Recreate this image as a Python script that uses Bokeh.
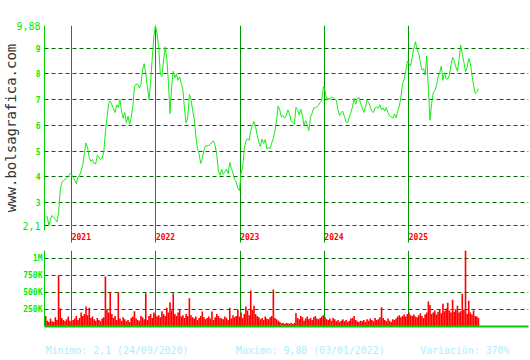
import pandas as pd
from bokeh.plotting import figure
from bokeh.models import (ColumnDataSource, FixedTicker, Range1d, LinearAxis,
                          DatetimeTickFormatter)
from bokeh.layouts import column
from bokeh.embed import file_html
from bokeh.resources import INLINE

# ---------------- data ----------------
start_date = "2020-09-10"          # weekly samples from here
close = [
    2.44, 2.45, 2.10, 2.35, 2.50, 2.42, 2.35, 2.25, 2.60, 3.45,
    3.78, 3.85, 3.90, 3.94, 4.04, 4.12, 4.10, 3.98, 3.88, 3.73,
    4.00, 4.06, 4.24, 4.47, 4.95, 5.32, 5.12, 4.75, 4.60, 4.68,
    4.52, 4.50, 4.84, 4.77, 4.68, 4.72, 4.98, 5.74, 6.30, 6.85,
    6.95, 6.80, 6.65, 6.50, 6.80, 6.70, 7.00, 6.55, 6.28, 6.50,
    6.10, 6.35, 6.05, 6.32, 6.75, 7.50, 7.60, 7.60, 7.45, 7.60,
    8.15, 8.40, 8.00, 7.50, 7.00, 7.70, 8.60, 9.45, 9.88, 9.55,
    9.05, 8.00, 7.90, 8.50, 9.05, 8.60, 7.70, 6.46, 7.50, 8.10,
    7.85, 8.00, 7.75, 7.88, 7.63, 7.38, 6.62, 6.10, 6.30, 7.20,
    7.00, 6.60, 6.25, 5.60, 5.10, 4.90, 4.52, 4.70, 5.05, 5.20,
    5.20, 5.22, 5.27, 5.36, 5.40, 5.20, 4.85, 4.22, 4.06, 4.30,
    4.10, 4.20, 4.30, 4.12, 4.56, 4.32, 4.15, 3.90, 3.80, 3.56,
    3.47, 4.15, 4.38, 5.10, 5.38, 5.48, 5.42, 5.80, 6.00, 6.15,
    5.95, 5.62, 5.35, 5.18, 5.47, 5.30, 5.45, 5.08, 5.15, 5.10,
    5.32, 5.50, 5.78, 6.20, 6.75, 6.60, 6.33, 6.38, 6.28, 6.38,
    6.60, 6.45, 6.18, 6.10, 6.05, 6.70, 6.62, 6.40, 6.62, 6.38,
    6.00, 6.18, 6.00, 5.80, 6.33, 6.47, 6.68, 6.68, 6.72, 6.78,
    6.90, 6.95, 7.50, 7.35, 6.98, 7.07, 7.00, 7.10, 7.08, 7.02,
    6.98, 6.62, 6.38, 6.50, 6.55, 6.35, 6.13, 6.10, 6.30, 6.50,
    6.72, 7.05, 6.82, 7.05, 7.08, 6.86, 6.70, 6.50, 6.70, 6.98,
    6.90, 6.72, 6.55, 6.50, 6.68, 6.72, 6.67, 6.80, 6.60, 6.68,
    6.55, 6.70, 6.50, 6.37, 6.33, 6.28, 6.44, 6.30, 6.55, 6.75,
    7.10, 7.62, 7.80, 8.10, 8.50, 8.40, 8.30, 8.65, 9.00, 9.25,
    8.95, 8.80, 8.45, 8.15, 8.20, 7.95, 8.70, 7.40, 6.20, 6.85,
    7.26, 7.35, 7.55, 7.88, 8.05, 8.30, 7.75, 8.05, 7.80, 7.80,
    7.95, 8.35, 8.65, 8.50, 8.27, 8.10, 8.55, 9.12, 8.75, 8.45,
    8.08, 8.25, 8.60, 8.40, 7.95, 7.55, 7.24, 7.30, 7.43,
]
volume_k = [
    150, 80, 60, 110, 70, 60, 130, 90, 748, 259,
    120, 90, 70, 100, 140, 80, 60, 90, 110, 150,
    90, 120, 200, 150, 180, 289, 160, 270, 120, 140,
    100, 80, 120, 90, 70, 110, 130, 733, 250, 200,
    500, 180, 120, 150, 90, 500, 110, 80, 130, 100,
    70, 90, 60, 120, 140, 220, 110, 90, 80, 150,
    130, 100, 486, 90, 150, 180, 120, 200, 170, 140,
    160, 130, 220, 180, 150, 270, 200, 353, 230, 486,
    180, 150, 200, 250, 140, 160, 120, 180, 150, 412,
    160, 130, 110, 140, 90, 120, 150, 215, 130, 100,
    120, 140, 110, 215, 90, 130, 180, 150, 120, 110,
    100, 140, 120, 90, 270, 110, 160, 130, 150, 245,
    140, 200, 120, 180, 290, 230, 160, 526, 240, 300,
    180, 150, 130, 100, 120, 90, 140, 110, 100, 130,
    150, 540, 120, 100, 80, 60, 40, 50, 30, 45,
    40, 35, 50, 30, 45, 190, 120, 100, 150, 130,
    80, 110, 140, 100, 120, 90, 130, 150, 110, 100,
    120, 140, 160, 130, 100, 90, 110, 80, 120, 100,
    70, 90, 60, 80, 100, 70, 90, 60, 80, 110,
    120, 150, 90, 70, 60, 80, 70, 90, 60, 100,
    80, 110, 90, 70, 120, 90, 100, 130, 280, 120,
    90, 70, 110, 80, 60, 100, 90, 110, 140, 160,
    130, 150, 170, 140, 180, 200, 160, 150, 170, 140,
    130, 160, 190, 150, 120, 170, 200, 363, 310, 180,
    200, 230, 170, 210, 250, 190, 330, 220, 260, 345,
    230, 200, 388, 210, 250, 300, 200, 220, 477, 240,
    1120, 180, 375, 200, 170, 230, 150, 140, 120,
]
year_dates = ["2021-01-01", "2022-01-01", "2023-01-01", "2024-01-01", "2025-01-01"]
price_grid = [2.1, 3, 4, 5, 6, 7, 8, 9, 9.88]
price_tick_labels = [3, 4, 5, 6, 7, 8, 9]
price_end_ticks = [2.1, 9.88]
price_end_labels = ["2,1", "9,88"]
vol_ticks = [250, 500, 750, 1000]
vol_tick_labels = ["250K", "500K", "750K", "1M"]
footer = ["Minimo: 2,1 (24/09/2020)", "Maximo: 9,88 (03/01/2022)", "Variación: 370%"]
watermark = "www.bolsagrafica.com"

# ---------------- build ----------------
dates = pd.date_range(start_date, periods=len(close), freq="7D")
src = ColumnDataSource(dict(date=dates, close=close, vol=volume_k))

MONO = "DejaVu Sans Mono"
GREEN_TXT = "#00ee00"
GRID = "#006600"
YEAR_LINE = "#009900"
NB = "\u00a0"

xr = Range1d(start=pd.Timestamp("2020-09-05"), end=pd.Timestamp("2026-06-04"))
year_ms = [pd.Timestamp(d).value / 1e6 for d in year_dates]
year_ticker = FixedTicker(ticks=year_ms)

p1 = figure(width=530, height=250, x_axis_type="datetime", x_range=xr,
            y_range=Range1d(1.917, max(price_grid)), output_backend="svg",
            toolbar_location=None, min_border_left=44, min_border_right=2,
            min_border_top=25, min_border_bottom=20)
p1.outline_line_color = None
p1.line("date", "close", source=src, color="#11ee11", line_width=1)

# integer price labels
ya = p1.yaxis[0]
ya.ticker = FixedTicker(ticks=price_tick_labels)
ya.axis_line_color = "#00cc00"
ya.major_tick_line_color = None
ya.minor_tick_line_color = None
ya.major_tick_out = 0
ya.major_tick_in = 0
ya.major_label_text_color = GREEN_TXT
ya.major_label_text_font = MONO
ya.major_label_text_font_style = "bold"
ya.major_label_text_font_size = "8px"
ya.major_label_standoff = 4

# min / max labels + watermark
ya2 = LinearAxis(ticker=FixedTicker(ticks=price_end_ticks),
                 major_label_overrides=dict(zip(price_end_ticks, price_end_labels)),
                 axis_line_color=None, major_tick_line_color=None, minor_tick_line_color=None,
                 major_tick_out=0, major_tick_in=0, major_label_standoff=-8,
                 major_label_text_color=GREEN_TXT, major_label_text_font=MONO,
                 major_label_text_font_size="10px",
                 axis_label=watermark, axis_label_standoff=-6,
                 axis_label_text_font=MONO, axis_label_text_font_size="14px",
                 axis_label_text_font_style="normal", axis_label_text_color="#333333")
p1.add_layout(ya2, "left")

p1.ygrid.ticker = FixedTicker(ticks=price_grid)
p1.ygrid.grid_line_color = GRID
p1.ygrid.grid_line_dash = "4 3"

fmt = NB * 4 + "%Y"
xa = p1.xaxis[0]
xa.ticker = year_ticker
xa.formatter = DatetimeTickFormatter(years=fmt, months=fmt, days=fmt)
p1.xgrid.ticker = year_ticker
p1.xgrid.grid_line_color = YEAR_LINE
xa.axis_line_color = None
xa.major_tick_line_color = YEAR_LINE
xa.major_tick_out = 12
xa.major_tick_in = 0
xa.minor_tick_line_color = None
xa.major_label_standoff = -10
xa.major_label_text_font = MONO
xa.major_label_text_font_style = "bold"
xa.major_label_text_font_size = "8px"
xa.major_label_text_color = "#ff0000"

p2 = figure(width=530, height=110, x_axis_type="datetime", x_range=xr,
            y_range=Range1d(-7, 1120), output_backend="svg", toolbar_location=None,
            min_border_left=44, min_border_right=2, min_border_top=0, min_border_bottom=34)
p2.outline_line_color = None
p2.vbar(x="date", top="vol", bottom=0, width=7 * 24 * 3600 * 1000, source=src,
        fill_color="#ff0000", line_color=None)

p2.yaxis.ticker = FixedTicker(ticks=vol_ticks)
p2.yaxis.major_label_overrides = dict(zip(vol_ticks, vol_tick_labels))
p2.ygrid.ticker = FixedTicker(ticks=vol_ticks)
p2.ygrid.grid_line_color = GRID
p2.ygrid.grid_line_dash = "4 3"
p2.yaxis.axis_line_color = "#00cc00"
p2.yaxis.major_tick_line_color = None
p2.yaxis.minor_tick_line_color = None
p2.yaxis.major_tick_out = 0
p2.yaxis.major_tick_in = 0
p2.yaxis.major_label_text_color = GREEN_TXT
p2.yaxis.major_label_text_font = MONO
p2.yaxis.major_label_text_font_style = "bold"
p2.yaxis.major_label_text_font_size = "8px"
p2.yaxis.major_label_standoff = 2

# footer carried by the bottom axis label
footer_text = (NB * 8).join([footer[0], footer[1]]) + NB * 6 + footer[2] + NB * 3
xb = p2.xaxis[0]
xb.ticker = year_ticker
p2.xgrid.ticker = year_ticker
p2.xgrid.grid_line_color = YEAR_LINE
xb.axis_line_color = "#00cc00"
xb.axis_line_width = 2
xb.major_tick_line_color = None
xb.minor_tick_line_color = None
xb.major_tick_out = 0
xb.major_tick_in = 0
xb.major_label_standoff = 0
xb.major_label_text_font_size = "1px"
xb.major_label_text_color = None
xb.axis_label = footer_text
xb.axis_label_standoff = 18
xb.axis_label_text_font = MONO
xb.axis_label_text_font_size = "9.9px"
xb.axis_label_text_font_style = "normal"
xb.axis_label_text_color = "#aaeeff"

layout = column(p1, p2, spacing=0)
open("out.html", "w").write(file_html(layout, INLINE))
